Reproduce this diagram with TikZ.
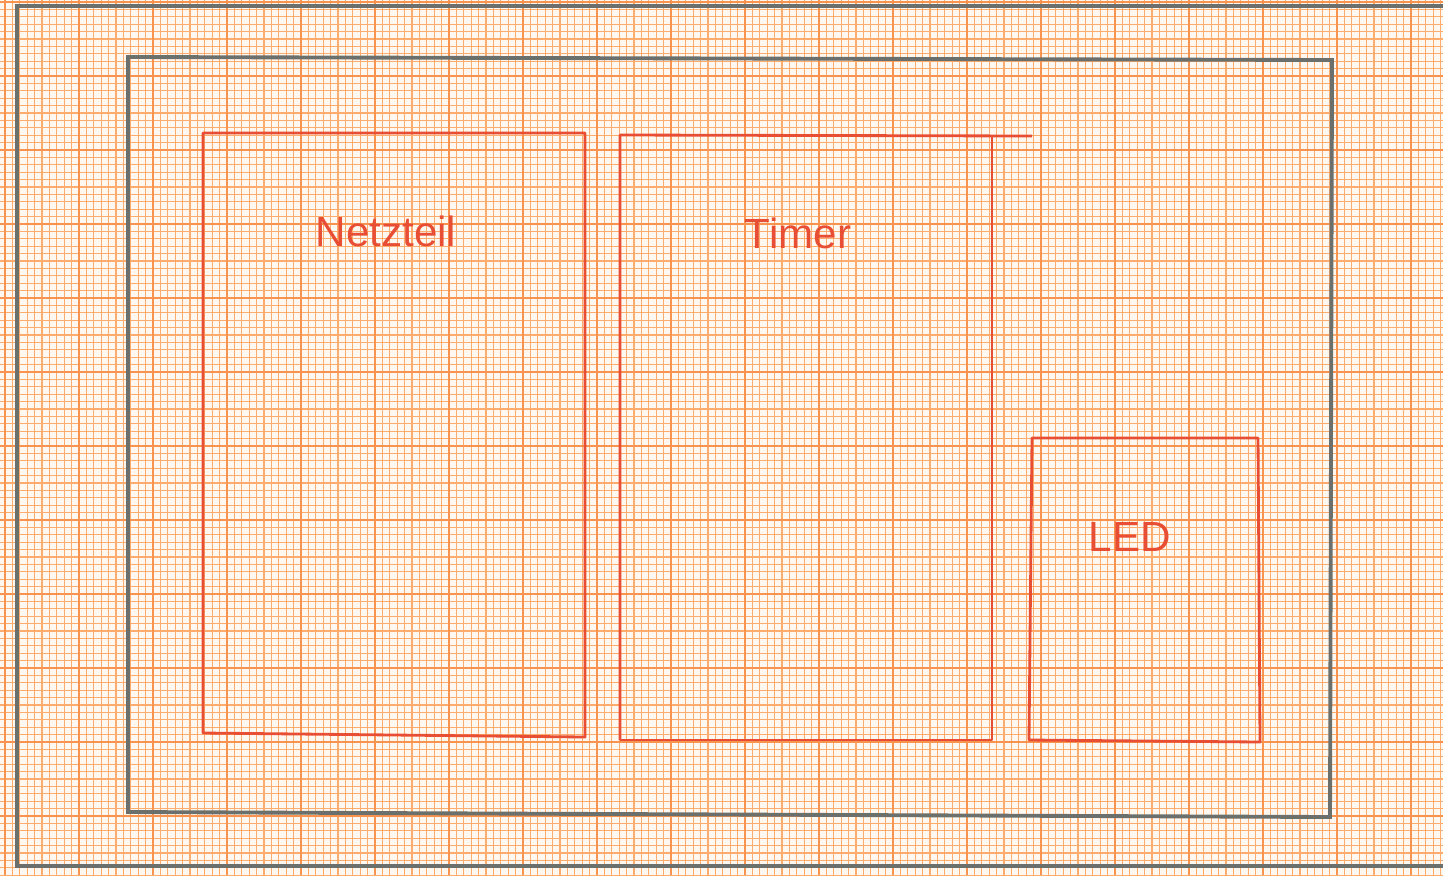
\documentclass[tikz,border=0pt]{standalone}
\usepackage{fontspec}
\setmainfont{Liberation Sans}
\usepackage{xcolor}
\usepackage{tikz}
\definecolor{paper}{RGB}{255,248,240}
\definecolor{gridor}{RGB}{253,172,110}
\definecolor{gridbold}{RGB}{248,148,80}
\definecolor{pencil}{RGB}{108,112,108}
\definecolor{redpen}{RGB}{232,78,52}
\tikzset{
  minorline/.style={gridor,line width=0.38pt},
  majorline/.style={gridbold,line width=0.6pt},
  frame/.style={pencil,line width=1.1pt},
  part/.style={redpen,line width=0.8pt,line join=round},
  partlabel/.style={text=redpen,font=\fontsize{12}{14}\selectfont}
}
\begin{document}
\begin{tikzpicture}[x=0.01cm,y=-0.01cm]
  \useasboundingbox (0,0) rectangle (1443,875);
  \fill[paper] (0,0) rectangle (1443,875);
  % millimetre paper
  \foreach \i in {0,...,195} {
    \draw[minorline] ({5+7.4*\i},0) -- ({5+7.4*\i},875);
  }
  \foreach \j in {0,...,118} {
    \draw[minorline] (0,{2+7.4*\j}) -- (1443,{2+7.4*\j});
  }
  \foreach \i in {0,...,19} {
    \draw[majorline] ({5+74*\i},0) -- ({5+74*\i},875);
  }
  \foreach \j in {0,...,11} {
    \draw[majorline] (0,{2+74*\j}) -- (1443,{2+74*\j});
  }
  % housing outlines
  \draw[frame] (1443,6) -- (17,6) -- (17,866) -- (1443,866);
  \draw[frame] (128,57) -- (1332,60) -- (1330,817) -- (128,812) -- cycle;
  % parts
  \draw[part] (203,133) -- (585,133) -- (585,737) -- (203,733) -- cycle;
  \draw[part] (620,740) -- (620,135) -- (1032,136);
  \draw[part] (992,137) -- (992,740) -- (620,740);
  \draw[part] (1032,438) -- (1258,438) -- (1260,742) -- (1029,740) -- cycle;
  \node[partlabel] (netzteil) at (386,231) {Netzteil};
  \node[partlabel] (timer) at (798,233) {Timer};
  \node[partlabel] (led) at (1130,537) {LED};
\end{tikzpicture}
\end{document}
